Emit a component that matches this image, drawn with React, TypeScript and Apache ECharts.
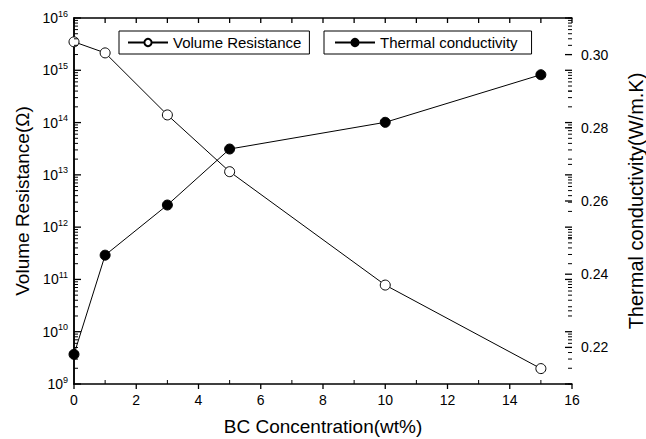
import React, { useEffect, useRef } from "react";
import * as echarts from "echarts";

const concentrations = [0, 1, 3, 5, 10, 15];
const volumeResistance = [3.5e15, 2.15e15, 1.4e14, 1.15e13, 7.8e10, 1.97e9];
const thermalConductivity = [0.2181, 0.2452, 0.2589, 0.2742, 0.2815, 0.2945];
const legendNames = ["Volume Resistance", "Thermal conductivity"];
const xTitle = "BC Concentration(wt%)";
const yLeftTitle = "Volume Resistance(Ω)";
const yRightTitle = "Thermal conductivity(W/m.K)";

// tick values (axis values, not data)
const xMajorTicks = [0, 2, 4, 6, 8, 10, 12, 14, 16];
const xMinorTicks = [1, 3, 5, 7, 9, 11, 13, 15];
const logDecades = [9, 10, 11, 12, 13, 14, 15, 16];
const logMinorMultipliers = [2, 3, 4, 5, 6, 7, 8, 9];
const rightMajorTicks = [0.22, 0.24, 0.26, 0.28, 0.3];
const rightMinorTicks = [0.21, 0.23, 0.25, 0.27, 0.29, 0.31];

const FONT = "Liberation Sans";
const INK = "#000";

const axisLine = () => ({ show: true, lineStyle: { color: INK, width: 1.5 } });

// side: 0 bottom, 1 top, 2 left, 3 right; len > 0 points into the plot
function buildTicksLeftSystem() {
  const items: number[][] = [];
  xMajorTicks.forEach((v) => {
    items.push([v, 1e12, 0, -5]);
    items.push([v, 1e12, 1, 5]);
  });
  xMinorTicks.forEach((v) => {
    items.push([v, 1e12, 0, 4]);
    items.push([v, 1e12, 1, 5]);
  });
  logDecades.forEach((d) => {
    const base = Math.pow(10, d);
    items.push([0, base, 2, 7]);
    items.push([16, base, 3, 7]);
    if (d < 16) {
      logMinorMultipliers.forEach((m) => {
        items.push([0, m * base, 2, 4]);
        items.push([16, m * base, 3, 4]);
      });
    }
  });
  return items;
}

function buildTicksRightSystem() {
  const items: number[][] = [];
  rightMajorTicks.forEach((v) => items.push([16, v, 3, 7]));
  rightMinorTicks.forEach((v) => items.push([16, v, 3, 4]));
  return items;
}

const renderTick = (params: any, api: any) => {
  const cs = params.coordSys;
  const side = api.value(2);
  const len = api.value(3);
  const p = api.coord([api.value(0), api.value(1)]);
  let x1 = 0, y1 = 0, x2 = 0, y2 = 0;
  if (side === 0) {
    x1 = x2 = p[0];
    y1 = cs.y + cs.height;
    y2 = y1 - len;
  } else if (side === 1) {
    x1 = x2 = p[0];
    y1 = cs.y;
    y2 = y1 + len;
  } else if (side === 2) {
    y1 = y2 = p[1];
    x1 = cs.x;
    x2 = x1 + len;
  } else {
    y1 = y2 = p[1];
    x1 = cs.x + cs.width;
    x2 = x1 - len;
  }
  return {
    type: "line",
    shape: { x1, y1, x2, y2 },
    style: { stroke: INK, lineWidth: Math.abs(len) >= 5 ? 1.3 : 1 },
    silent: true,
  };
};

export default function App() {
  const ref = useRef<HTMLDivElement>(null);
  useEffect(() => {
    if (!ref.current) return;
    const chart = echarts.init(ref.current, undefined, { renderer: "svg" });
    chart.setOption({
      animation: false,
      backgroundColor: "#fff",
      grid: { left: 74, right: 74, top: 18, bottom: 55, outerBoundsMode: "none" },
      legend: [
        {
          data: [legendNames[0]],
          left: 119,
          top: 31,
          itemWidth: 40,
          itemHeight: 9,
          itemGap: 5,
          padding: [4, 8, 4, 8],
          borderColor: INK,
          borderWidth: 1,
          textStyle: { fontFamily: FONT, fontSize: 15, color: INK },
        },
        {
          data: [legendNames[1]],
          left: 324,
          top: 31,
          itemWidth: 40,
          itemHeight: 9,
          padding: [4, 14, 4, 10],
          borderColor: INK,
          borderWidth: 1,
          textStyle: { fontFamily: FONT, fontSize: 15, color: INK },
        },
      ],
      xAxis: [
        {
          type: "value",
          min: 0,
          max: 16,
          interval: 2,
          name: xTitle,
          nameLocation: "middle",
          nameGap: 33,
          nameTextStyle: { fontFamily: FONT, fontSize: 19, color: INK },
          axisLine: axisLine(),
          axisTick: { show: false },
          axisLabel: { fontFamily: FONT, fontSize: 14, color: INK, margin: 9 },
          splitLine: { show: false },
        },
        {
          type: "value",
          min: 0,
          max: 16,
          interval: 1,
          position: "top",
          axisLine: axisLine(),
          axisTick: { show: false },
          axisLabel: { show: false },
          splitLine: { show: false },
        },
      ],
      yAxis: [
        {
          type: "log",
          logBase: 10,
          min: 1e9,
          max: 1e16,
          position: "left",
          name: yLeftTitle,
          nameLocation: "middle",
          nameRotate: 90,
          nameGap: 40,
          nameTextStyle: { fontFamily: FONT, fontSize: 19, color: INK },
          axisLine: axisLine(),
          axisTick: { show: false },
          axisLabel: {
            fontFamily: FONT,
            color: INK,
            margin: 6,
            formatter: (v: number) => `{b|10}{s|${Math.round(Math.log10(v))}}`,
            rich: {
              b: { fontFamily: FONT, fontSize: 14, color: INK },
              s: { fontFamily: FONT, fontSize: 9, color: INK, verticalAlign: "bottom", padding: [0, 0, 9, 0] },
            },
          },
          splitLine: { show: false },
        },
        {
          type: "value",
          min: 0.21,
          max: 0.31,
          interval: 0.01,
          position: "right",
          name: yRightTitle,
          nameLocation: "middle",
          nameRotate: 90,
          nameGap: 54,
          nameTextStyle: { fontFamily: FONT, fontSize: 20, color: INK },
          axisLine: axisLine(),
          axisTick: { show: false },
          axisLabel: {
            fontFamily: FONT,
            fontSize: 14,
            color: INK,
            margin: 9,
            formatter: (v: number) => (Math.round(v * 100) % 2 === 0 ? v.toFixed(2) : ""),
          },
          splitLine: { show: false },
        },
      ],
      series: [
        {
          name: legendNames[0],
          type: "line",
          xAxisIndex: 0,
          yAxisIndex: 0,
          data: concentrations.map((x, i) => [x, volumeResistance[i]]),
          symbol: "circle",
          symbolSize: 10,
          lineStyle: { color: INK, width: 1 },
          itemStyle: { color: "#fff", borderColor: INK, borderWidth: 1 },
          z: 3,
        },
        {
          name: legendNames[1],
          type: "line",
          xAxisIndex: 0,
          yAxisIndex: 1,
          data: concentrations.map((x, i) => [x, thermalConductivity[i]]),
          symbol: "circle",
          symbolSize: 10,
          lineStyle: { color: INK, width: 1 },
          itemStyle: { color: INK, borderColor: INK, borderWidth: 1 },
          z: 3,
        },
        {
          name: "ticksA",
          type: "custom",
          xAxisIndex: 0,
          yAxisIndex: 0,
          clip: false,
          silent: true,
          z: 4,
          data: buildTicksLeftSystem(),
          renderItem: renderTick,
        },
        {
          name: "ticksB",
          type: "custom",
          xAxisIndex: 0,
          yAxisIndex: 1,
          clip: false,
          silent: true,
          z: 4,
          data: buildTicksRightSystem(),
          renderItem: renderTick,
        },
      ],
    });
    return () => chart.dispose();
  }, []);
  return (
    <div
      ref={ref}
      style={{ position: "fixed", left: 0, top: 0, width: 646, height: 439, background: "#fff" }}
    />
  );
}
